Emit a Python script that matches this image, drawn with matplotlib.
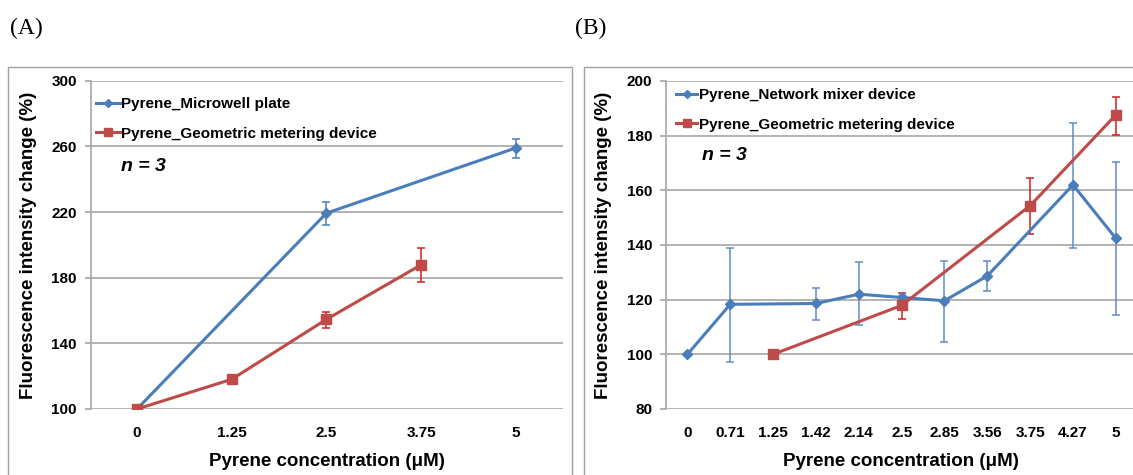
import matplotlib
matplotlib.use("Agg")
import matplotlib.pyplot as plt
from matplotlib.patches import Rectangle

plt.rcParams['font.family'] = ['Liberation Sans', 'DejaVu Sans']

# ---------------- data ----------------
cats_a = ['0', '1.25', '2.5', '3.75', '5']
a_blue_x = ['0', '2.5', '5']
a_blue_y = [100, 219.3, 259.0]
a_blue_lo = [0, 7.5, 6.3]
a_blue_hi = [0, 7.1, 5.7]
a_red_x = ['0', '1.25', '2.5', '3.75']
a_red_y = [100, 118.1, 154.6, 187.8]
a_red_lo = [0, 0, 5.3, 10.5]
a_red_hi = [0, 0, 4.2, 10.0]
a_yticks = [100, 140, 180, 220, 260, 300]

cats_b = ['0', '0.71', '1.25', '1.42', '2.14', '2.5', '2.85', '3.56', '3.75', '4.27', '5']
b_blue_x = ['0', '0.71', '1.42', '2.14', '2.5', '2.85', '3.56', '4.27', '5']
b_blue_y = [100, 118.3, 118.6, 122.0, 120.8, 119.6, 128.7, 162.0, 142.4]
b_blue_lo = [0, 21.1, 6.1, 11.2, 0, 15.1, 5.4, 23.0, 28.0]
b_blue_hi = [0, 20.7, 5.8, 11.6, 0, 14.4, 5.3, 22.8, 27.8]
b_red_x = ['1.25', '2.5', '3.75', '5']
b_red_y = [100, 117.9, 154.4, 187.6]
b_red_lo = [0, 4.8, 10.4, 7.2]
b_red_hi = [0, 4.5, 10.1, 6.6]
b_yticks = [80, 100, 120, 140, 160, 180, 200]

labels_a = ['Pyrene_Microwell plate', 'Pyrene_Geometric metering device']
labels_b = ['Pyrene_Network mixer device', 'Pyrene_Geometric metering device']
xlabel = 'Pyrene concentration (\u03bcM)'
ylabel = 'Fluorescence intensity change (%)'

BLUE = '#4A7EBB'
BLUE_ERR = '#5F8DC6'
RED = '#BE4B48'
RED_ERR = '#D0201E'
GRID = '#A6A6A6'

W, H = 1133, 475
fig = plt.figure(figsize=(W / 100, H / 100), dpi=100)

def fx(px):
    return px / W

def fy(py):
    return 1 - py / H

# panel borders
for x0, x1 in [(8, 572), (583.5, 1140)]:
    fig.patches.append(Rectangle((fx(x0), fy(480)), fx(x1 - x0), (480 - 67) / H,
                                 transform=fig.transFigure, fill=False,
                                 edgecolor='#A0A0A0', linewidth=1.0))

def style(ax, yticks, ylim):
    ax.set_ylim(*ylim)
    ax.set_yticks(yticks)
    ax.yaxis.grid(True, color=GRID, linewidth=1.2)
    ax.set_axisbelow(True)
    for s in ['top', 'right', 'bottom']:
        ax.spines[s].set_visible(False)
    ax.spines['left'].set_color(GRID)
    ax.spines['left'].set_linewidth(1.2)
    ax.tick_params(axis='y', length=4, width=1.2, color=GRID, pad=6, labelsize=11)
    ax.tick_params(axis='x', length=0, pad=12, labelsize=11)
    for t in ax.get_xticklabels() + ax.get_yticklabels():
        t.set_fontweight('bold')
    ax.patch.set_alpha(0)

def draw(ax, cats, bx, by, blo, bhi, rx, ry, rlo, rhi, ebcol):
    bi = [cats.index(c) for c in bx]
    ri = [cats.index(c) for c in rx]
    lb, = ax.plot(bi, by, color=BLUE, lw=2.2, marker='D', ms=5, zorder=4)
    lr, = ax.plot(ri, ry, color=RED, lw=2.2, marker='s', ms=7, zorder=5)
    ax.errorbar(bi, by, yerr=[blo, bhi], fmt='none', ecolor=ebcol, elinewidth=1.1,
                capsize=3, capthick=1.1, zorder=3)
    ax.errorbar(ri, ry, yerr=[rlo, rhi], fmt='none', ecolor=RED_ERR, elinewidth=1.1,
                capsize=3, capthick=1.1, zorder=3)
    ax.set_xticks(range(len(cats)))
    ax.set_xticklabels(cats)
    return lb, lr

# panel A
axA = fig.add_axes([fx(90.7), fy(409), fx(563 - 90.7), (409 - 80.7) / H])
lbA, lrA = draw(axA, cats_a, a_blue_x, a_blue_y, a_blue_lo, a_blue_hi,
                a_red_x, a_red_y, a_red_lo, a_red_hi, BLUE)
axA.set_xlim(-0.49, 4.5)
style(axA, a_yticks, (100, 300))

# panel B
axB = fig.add_axes([fx(666), fy(409), fx(1133 - 666), (409 - 81) / H])
lbB, lrB = draw(axB, cats_b, b_blue_x, b_blue_y, b_blue_lo, b_blue_hi,
                b_red_x, b_red_y, b_red_lo, b_red_hi, BLUE_ERR)
axB.set_xlim(-0.5, 10.4)
style(axB, b_yticks, (80, 200))

# legends
for ax, handles, labels, x0, y0, sp, hl in [
        (axA, [lbA, lrA], labels_a, 96, 97, 1.03, 1.55),
        (axB, [lbB, lrB], labels_b, 676, 88.5, 1.0, 1.4)]:
    leg = ax.legend(handles, labels, loc='upper left', bbox_to_anchor=(fx(x0), fy(y0)),
                    bbox_transform=fig.transFigure, frameon=False, borderpad=0,
                    borderaxespad=0, handlelength=hl, handletextpad=0.1,
                    labelspacing=sp, prop={'weight': 'bold', 'size': 11}, markerscale=0.85)

# n = 3
fig.text(fx(120.7), fy(167), 'n = 3', fontsize=14, fontweight='bold', fontstyle='italic',
         ha='left', va='center')
fig.text(fx(702), fy(156), 'n = 3', fontsize=14, fontweight='bold', fontstyle='italic',
         ha='left', va='center')

# axis labels
for xc in [326.8, 901]:
    fig.text(fx(xc), fy(461), xlabel, fontsize=13.5, fontweight='bold', ha='center', va='center')
for xc in [28.6, 603]:
    fig.text(fx(xc), fy(245.5), ylabel, fontsize=13.5, fontweight='bold', ha='center',
             va='center', rotation=90)

# panel tags
fig.text(fx(10), fy(28), '(A)', fontsize=17, family='Liberation Serif', ha='left', va='center')
fig.text(fx(575), fy(28), '(B)', fontsize=17, family='Liberation Serif', ha='left', va='center')

fig.savefig('out.png', dpi=100)
